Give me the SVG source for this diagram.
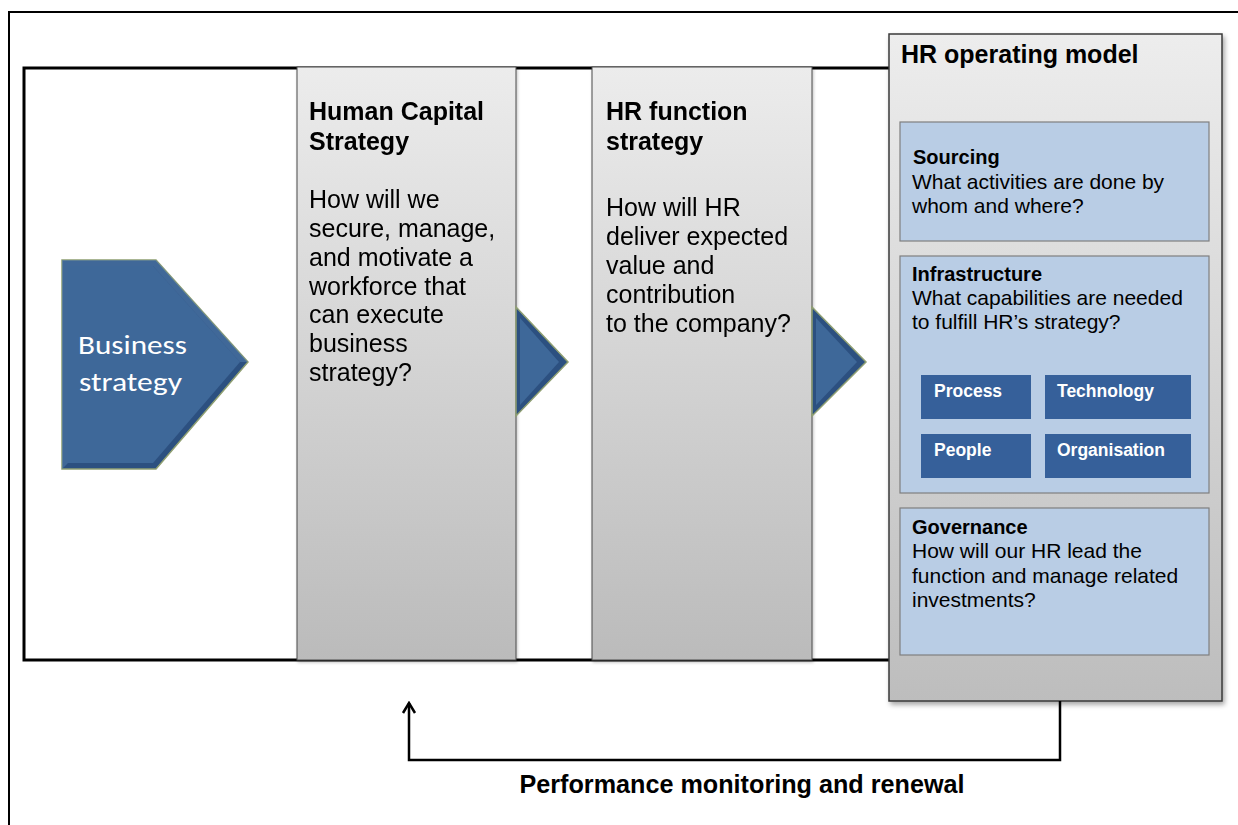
<svg xmlns="http://www.w3.org/2000/svg" width="1238" height="825" viewBox="0 0 1238 825">
<style>
  .frame{fill:none;stroke:#000;stroke-width:2}
  .main{fill:#fff;stroke:#000;stroke-width:3}
  .col{fill:url(#gcol);stroke:#4a4a4a;stroke-width:1}
  .head{font-family:"Liberation Sans",Arial,sans-serif;font-weight:bold;font-size:25px;fill:#000}
  .body{font-family:"Liberation Sans",Arial,sans-serif;font-size:25px;fill:#000}
  .sub{fill:#b9cde5;stroke:#7f7f7f;stroke-width:1.2}
  .subh{font-family:"Liberation Sans",Arial,sans-serif;font-weight:bold;font-size:20px;fill:#000}
  .subt{font-family:"Liberation Sans",Arial,sans-serif;font-size:21px;fill:#000}
  .tile{fill:#36609a}
  .tilet{font-family:"Liberation Sans",Arial,sans-serif;font-weight:bold;font-size:17.5px;fill:#fff}
  .conn{fill:none;stroke:#000;stroke-width:2.5}
  .bs{font-family:"Carlito","Lato","Open Sans",sans-serif;font-size:26px;fill:#fff}
</style>
<defs>
  <linearGradient id="gcol" x1="0" y1="0" x2="0" y2="1">
    <stop offset="0" stop-color="#ececec"/>
    <stop offset="1" stop-color="#bbbbbb"/>
  </linearGradient>
  <linearGradient id="gop" x1="0" y1="0" x2="0" y2="1">
    <stop offset="0" stop-color="#ededed"/>
    <stop offset="1" stop-color="#bdbdbd"/>
  </linearGradient>
  <filter id="sh" x="-10%" y="-10%" width="125%" height="125%">
    <feDropShadow dx="2" dy="3" stdDeviation="2.5" flood-color="#000" flood-opacity="0.35"/>
  </filter>
  <filter id="sh2" x="-10%" y="-10%" width="125%" height="125%">
    <feDropShadow dx="1" dy="2" stdDeviation="1.5" flood-color="#000" flood-opacity="0.25"/>
  </filter>
  <marker id="arr" viewBox="0 0 16 16" refX="14" refY="8" markerWidth="16" markerHeight="16" markerUnits="userSpaceOnUse" orient="auto">
    <path d="M4,2 L14,8 L4,14" fill="none" stroke="#000" stroke-width="2.5"/>
  </marker>
</defs>

<g id="frame">
  <path class="frame" d="M9,825 L9,12 L1238,12"/>
</g>

<g id="main-box">
  <rect class="main" x="24" y="68" width="880" height="592"/>
</g>

<g id="business-strategy">
  <polygon points="62,260 156,260 248,362 156,469 62,469" fill="#2c5080" stroke="#8f9f72" stroke-width="1.5"/>
  <polygon points="68,266 153,266 240,362 153,463 68,463" fill="#3e6899"/>
  <polygon points="62,260 156,260 248,362 240,362 153,266 68,266 68,463 62,469" fill="#4f78a8" opacity="0.6"/>
  <text class="bs" x="78" y="354" textLength="109" lengthAdjust="spacingAndGlyphs">Business</text>
  <text class="bs" x="79" y="391" textLength="103" lengthAdjust="spacingAndGlyphs">strategy</text>
</g>

<g id="human-capital-strategy" filter="url(#sh2)">
  <rect class="col" x="297" y="67" width="219" height="593"/>
  <text class="head" x="309" y="120">Human Capital</text>
  <text class="head" x="309" y="150">Strategy</text>
  <text class="body" x="309" y="208">How will we</text>
  <text class="body" x="309" y="237">secure, manage,</text>
  <text class="body" x="309" y="266">and motivate a</text>
  <text class="body" x="309" y="295">workforce that</text>
  <text class="body" x="309" y="323">can execute</text>
  <text class="body" x="309" y="352">business</text>
  <text class="body" x="309" y="381">strategy?</text>
</g>

<g id="hr-function-strategy" filter="url(#sh2)">
  <rect class="col" x="592" y="67" width="220" height="593"/>
  <text class="head" x="606" y="120">HR function</text>
  <text class="head" x="606" y="150">strategy</text>
  <text class="body" x="606" y="216">How will HR</text>
  <text class="body" x="606" y="245">deliver expected</text>
  <text class="body" x="606" y="274">value and</text>
  <text class="body" x="606" y="303">contribution</text>
  <text class="body" x="606" y="332">to the company?</text>
</g>

<g id="arrow-1">
  <polygon points="516,307 568,362 516,416" fill="#2c5080" stroke="#8f9f72" stroke-width="1.5"/>
  <polygon points="520,318 559,362 520,405" fill="#3e6899"/>
</g>
<g id="arrow-2">
  <polygon points="812,307 866,362 812,416" fill="#2c5080" stroke="#8f9f72" stroke-width="1.5"/>
  <polygon points="816,318 857,362 816,405" fill="#3e6899"/>
</g>

<g id="hr-operating-model">
  <rect x="889" y="34" width="333" height="667" fill="url(#gop)" stroke="#3a3a3a" stroke-width="1.5" filter="url(#sh)"/>
  <text class="head" x="901" y="63">HR operating model</text>
</g>

<g id="sourcing">
  <rect class="sub" x="900" y="122" width="309" height="119"/>
  <text class="subh" x="913" y="164">Sourcing</text>
  <text class="subt" x="912" y="189">What activities are done by</text>
  <text class="subt" x="912" y="213">whom and where?</text>
</g>

<g id="infrastructure">
  <rect class="sub" x="900" y="256" width="309" height="237"/>
  <text class="subh" x="912" y="281">Infrastructure</text>
  <text class="subt" x="912" y="305">What capabilities are needed</text>
  <text class="subt" x="912" y="329">to fulfill HR’s strategy?</text>
</g>

<g id="process">
  <rect class="tile" x="921" y="375" width="110" height="44"/>
  <text class="tilet" x="934" y="397">Process</text>
</g>
<g id="technology">
  <rect class="tile" x="1045" y="375" width="146" height="44"/>
  <text class="tilet" x="1057" y="397">Technology</text>
</g>
<g id="people">
  <rect class="tile" x="921" y="434" width="110" height="44"/>
  <text class="tilet" x="934" y="456">People</text>
</g>
<g id="organisation">
  <rect class="tile" x="1045" y="434" width="146" height="44"/>
  <text class="tilet" x="1057" y="456">Organisation</text>
</g>

<g id="governance">
  <rect class="sub" x="900" y="508" width="309" height="147"/>
  <text class="subh" x="912" y="534">Governance</text>
  <text class="subt" x="912" y="558">How will our HR lead the</text>
  <text class="subt" x="912" y="583">function and manage related</text>
  <text class="subt" x="912" y="607">investments?</text>
</g>

<g id="connectors">
  <path class="conn" d="M1060,701 L1060,760 L409,760 L409,703" marker-end="url(#arr)"/>
</g>

<g id="label">
  <text class="head" x="742" y="793" text-anchor="middle" textLength="445" lengthAdjust="spacingAndGlyphs">Performance monitoring and renewal</text>
</g>
</svg>
